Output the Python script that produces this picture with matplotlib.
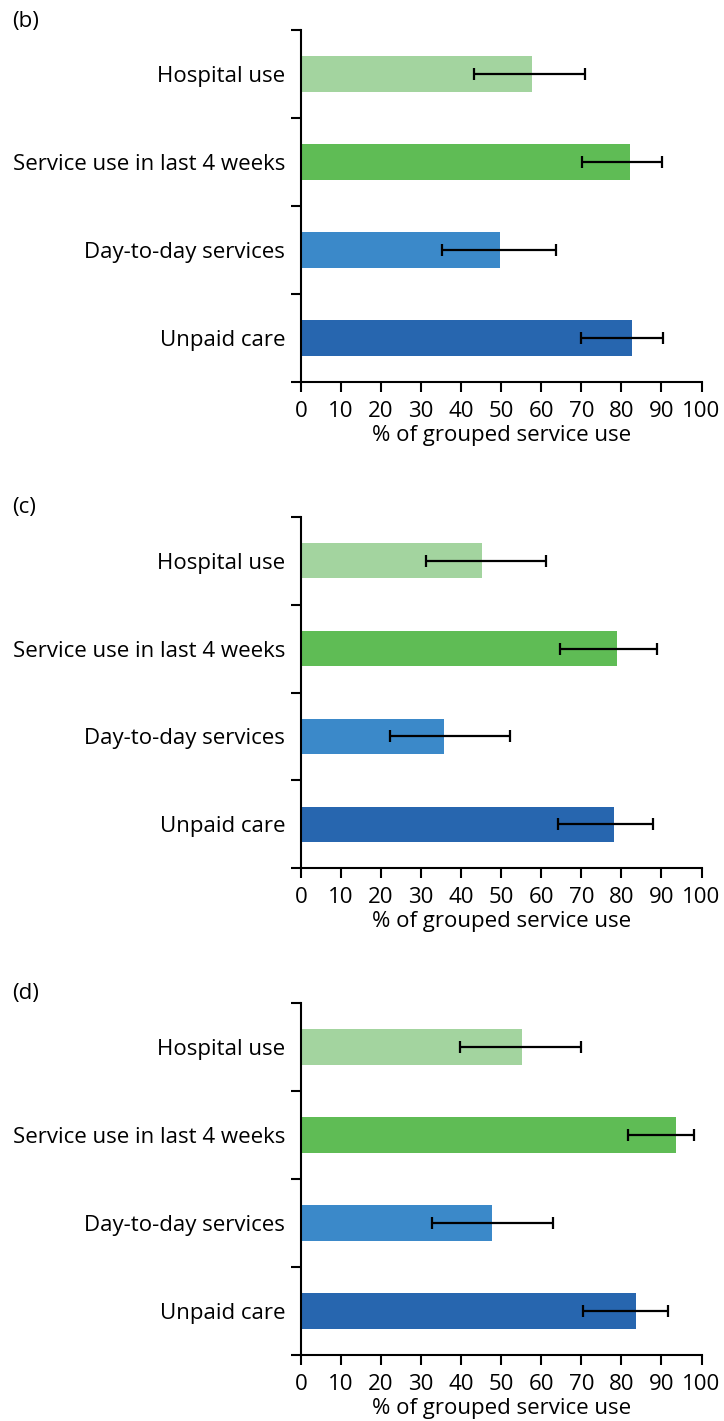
import numpy as np
import matplotlib.pyplot as plt

plt.rcParams['font.family'] = ['Open Sans', 'DejaVu Sans']

# categories from bottom to top
categories = ["Unpaid care", "Day-to-day services", "Service use in last 4 weeks", "Hospital use"]
colours = ["#2766AF", "#3B89C9", "#5FBC55", "#A3D49F"]

# panel (b)
b_vals = [82.6, 49.6, 82.1, 57.6]
b_lo = [69.9, 35.2, 70.2, 43.1]
b_hi = [90.3, 63.6, 90.1, 70.8]

# panel (c)
c_vals = [78.1, 35.8, 78.8, 45.1]
c_lo = [64.2, 22.2, 64.6, 31.2]
c_hi = [87.8, 52.2, 88.9, 61.1]

# panel (d)
d_vals = [83.6, 47.6, 93.6, 55.1]
d_lo = [70.5, 32.8, 81.7, 39.7]
d_hi = [91.6, 63.0, 98.1, 69.8]

panels = [("(b)", b_vals, b_lo, b_hi), ("(c)", c_vals, c_lo, c_hi), ("(d)", d_vals, d_lo, d_hi)]

W, H = 724, 1421
fig = plt.figure(figsize=(W / 100, H / 100), dpi=100)

# axes pixel boxes (top, bottom)
boxes = [(30, 382), (517, 868), (1003, 1355)]
left, right = 301, 701.5
fs = 16

for (tag, vals, lo, hi), (top, bot) in zip(panels, boxes):
    ax = fig.add_axes([left / W, 1 - bot / H, (right - left) / W, (bot - top) / H])
    y = np.arange(len(categories))
    vals = np.array(vals)
    xerr = [vals - np.array(lo), np.array(hi) - vals]
    ax.barh(y, vals, height=0.4, color=colours, zorder=1)
    ax.errorbar(vals, y, xerr=xerr, fmt='none', ecolor='black', elinewidth=1.6,
                capsize=4.5, capthick=1.6, zorder=2)
    ax.set_xlim(0, 100)
    ax.set_ylim(-0.5, 3.5)
    ax.set_xticks(np.arange(0, 101, 10))
    ax.set_yticks(y)
    ax.set_yticklabels(categories)
    ax.set_yticks(np.arange(-0.5, 3.6, 1), minor=True)
    ax.tick_params(axis='y', which='major', length=0, pad=11.5, labelsize=fs)
    ax.tick_params(axis='y', which='minor', length=7, width=1.5)
    ax.tick_params(axis='x', length=7, width=1.5, labelsize=fs, pad=6.5)
    ax.spines['top'].set_visible(False)
    ax.spines['right'].set_visible(False)
    ax.spines['left'].set_linewidth(1.5)
    ax.spines['bottom'].set_linewidth(1.5)
    ax.set_xlabel("% of grouped service use", fontsize=fs, labelpad=2)
    fig.text(12 / W, 1 - (top - 9) / H, tag, fontsize=fs, va='center', ha='left')

fig.savefig("out.png", dpi=100)
